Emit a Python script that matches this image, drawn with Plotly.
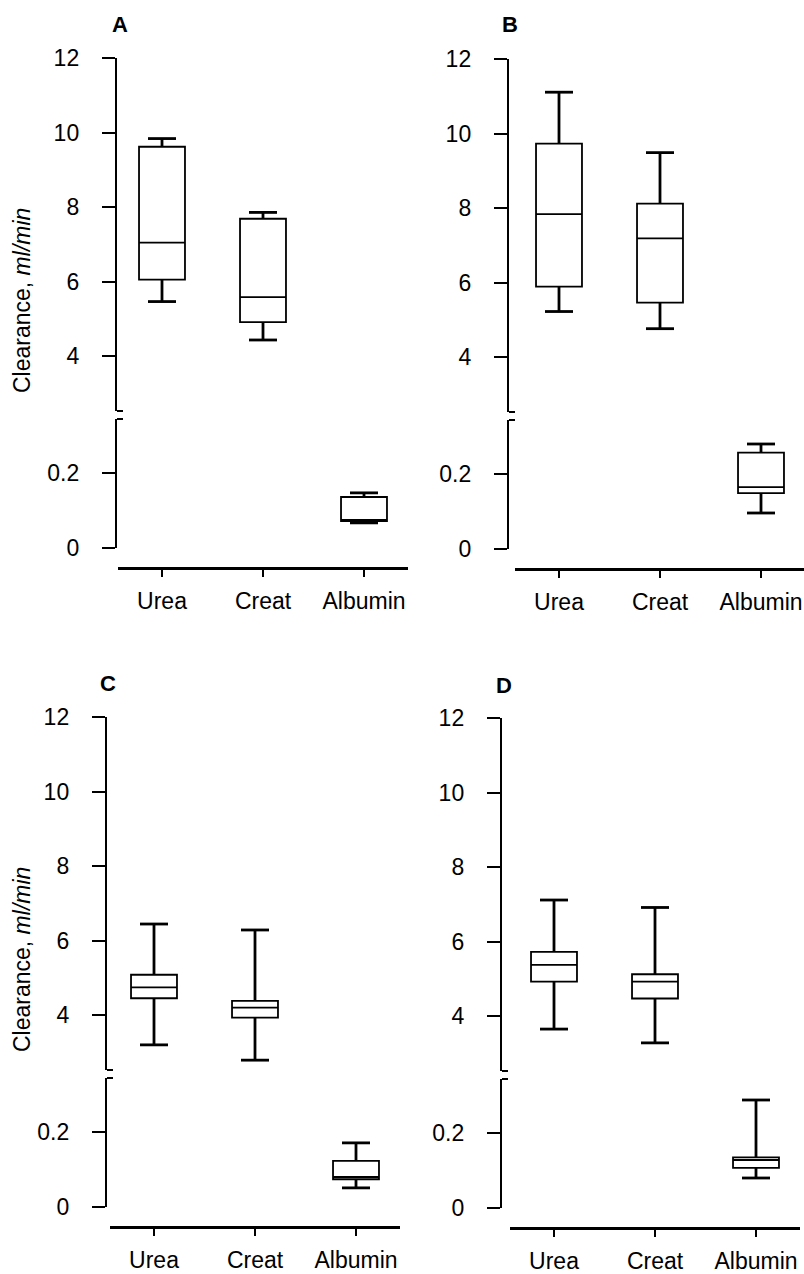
import plotly.graph_objects as go

# ---------------- data ----------------
categories = ["Urea", "Creat", "Albumin"]
panel_names = ["A", "B", "C", "D"]

A_lowerfence = [5.47, 4.44, 0.067]
A_q1 = [6.06, 4.92, 0.072]
A_median = [7.05, 5.59, 0.072]
A_q3 = [9.62, 7.69, 0.136]
A_upperfence = [9.84, 7.86, 0.147]

B_lowerfence = [5.23, 4.77, 0.096]
B_q1 = [5.90, 5.47, 0.149]
B_median = [7.84, 7.19, 0.165]
B_q3 = [9.73, 8.12, 0.257]
B_upperfence = [11.11, 9.49, 0.280]

C_lowerfence = [3.21, 2.80, 0.051]
C_q1 = [4.46, 3.94, 0.074]
C_median = [4.75, 4.21, 0.080]
C_q3 = [5.09, 4.39, 0.123]
C_upperfence = [6.45, 6.29, 0.171]

D_lowerfence = [3.66, 3.29, 0.080]
D_q1 = [4.93, 4.48, 0.107]
D_median = [5.38, 4.93, 0.128]
D_q3 = [5.73, 5.13, 0.135]
D_upperfence = [7.12, 6.92, 0.288]

upper_tickvals = [4, 6, 8, 10, 12]
lower_tickvals = [0, 0.2]
lower_ticktext = ["0", "0.2"]
y_title = "Clearance, <i>ml/min</i>"

stats = {
    "A": (A_lowerfence, A_q1, A_median, A_q3, A_upperfence),
    "B": (B_lowerfence, B_q1, B_median, B_q3, B_upperfence),
    "C": (C_lowerfence, C_q1, C_median, C_q3, C_upperfence),
    "D": (D_lowerfence, D_q1, D_median, D_q3, D_upperfence),
}

# ---------------- layout geometry (pixels) ----------------
W, H = 804, 1274
FONT = "Liberation Sans, Arial, Helvetica, sans-serif"
FS = 23
panels = [
    dict(top=58, yx=116, xl=118, lab=(120, 25), title=True),
    dict(top=59, yx=508, xl=515, lab=(510, 25), title=False),
    dict(top=717, yx=106, xl=110, lab=(108, 683), title=True),
    dict(top=718, yx=501, xl=510, lab=(504, 685), title=False),
]
UP_H, GAP, LO_H, XOFF = 353, 8, 129, 20
UP_SCALE, LO_SCALE = 37.3, 375.0
TICK_SP, LEFT_PAD, XW = 101.0, 44.0, 290.0

BOX_LW, WH_LW, CAP = 1.8, 2.8, 20


def fx(px):
    return px / W


def fy(py):
    return 1 - py / H


fig = go.Figure()
layout = dict(
    width=W, height=H,
    margin=dict(l=0, r=0, t=0, b=0, pad=0, autoexpand=False),
    paper_bgcolor="white", plot_bgcolor="white", showlegend=False,
    font=dict(family=FONT, size=FS, color="black"),
)
annotations = []

for p, (name, g) in enumerate(zip(panel_names, panels)):
    lo, q1, med, q3, hi = stats[name]
    xi = p + 1
    yu = 2 * p + 1
    yl = 2 * p + 2
    xname = "x" if xi == 1 else f"x{xi}"
    yuname = "y" if yu == 1 else f"y{yu}"
    ylname = f"y{yl}"

    top = g["top"]
    up_bot = top + UP_H
    lo_top = up_bot + GAP
    lo_bot = lo_top + LO_H
    xaxis_y = lo_bot + XOFF
    up_min = 12 - UP_H / UP_SCALE
    lo_max = LO_H / LO_SCALE

    xl = g["xl"]
    xr = min(xl + XW, W)
    tick0 = xl + LEFT_PAD
    xrange = [-(LEFT_PAD / TICK_SP), (xr - tick0) / TICK_SP]

    xpos = list(range(len(categories)))

    # groups: upper = Urea, Creat ; lower = Albumin
    for idxs, yname in (([0, 1], yuname), ([2], ylname)):
        xs = [xpos[i] for i in idxs]
        fig.add_trace(go.Box(
            x=xs, q1=[q1[i] for i in idxs], median=[med[i] for i in idxs],
            q3=[q3[i] for i in idxs], lowerfence=[q1[i] for i in idxs],
            upperfence=[q3[i] for i in idxs], width=0.455, whiskerwidth=0,
            fillcolor="white", line=dict(color="black", width=BOX_LW),
            boxpoints=False, hoverinfo="skip", xaxis=xname, yaxis=yname,
        ))
        wx, wy = [], []
        for i in idxs:
            wx += [xpos[i], xpos[i], None, xpos[i], xpos[i], None]
            wy += [q3[i], hi[i], None, q1[i], lo[i], None]
        fig.add_trace(go.Scatter(
            x=wx, y=wy, mode="lines", line=dict(color="black", width=WH_LW),
            hoverinfo="skip", xaxis=xname, yaxis=yname, cliponaxis=False,
        ))
        cx, cy = [], []
        for i in idxs:
            cx += [xpos[i], xpos[i]]
            cy += [hi[i], lo[i]]
        fig.add_trace(go.Scatter(
            x=cx, y=cy, mode="markers",
            marker=dict(symbol="line-ew", size=CAP,
                        line=dict(color="black", width=WH_LW)),
            hoverinfo="skip", xaxis=xname, yaxis=yname, cliponaxis=False,
        ))

    layout[f"xaxis{'' if xi == 1 else xi}"] = dict(
        domain=[fx(xl), fx(xr)], range=xrange, anchor="free",
        position=fy(xaxis_y), tickmode="array", tickvals=xpos,
        ticktext=categories, ticks="outside", ticklen=7, tickwidth=1.8,
        tickcolor="black", showline=True, linewidth=2.6, linecolor="black",
        showgrid=False, zeroline=False, ticklabelstandoff=5, automargin=False,
        tickfont=dict(family=FONT, size=FS, color="black"),
    )
    yaxis_common = dict(
        anchor="free", position=fx(g["yx"]), ticks="outside", ticklen=13,
        tickwidth=1.8, tickcolor="black", showline=True, linewidth=2.4,
        linecolor="black", showgrid=False, zeroline=False, automargin=False,
        ticklabelstandoff=18, tickfont=dict(family=FONT, size=FS, color="black"),
    )
    layout[f"yaxis{'' if yu == 1 else yu}"] = dict(
        yaxis_common, domain=[fy(up_bot), fy(top)], range=[up_min, 12],
        tickmode="array", tickvals=[up_min] + upper_tickvals,
        ticktext=[""] + [str(v) for v in upper_tickvals],
        minor=dict(tickmode="array", tickvals=[up_min], ticks="inside",
                   ticklen=6, tickwidth=1.8, tickcolor="black", showgrid=False),
    )
    layout[f"yaxis{yl}"] = dict(
        yaxis_common, domain=[fy(lo_bot), fy(lo_top)], range=[0, lo_max],
        tickmode="array", tickvals=lower_tickvals + [lo_max],
        ticktext=lower_ticktext + [""],
        minor=dict(tickmode="array", tickvals=[lo_max], ticks="inside",
                   ticklen=6, tickwidth=1.8, tickcolor="black", showgrid=False),
    )

    annotations.append(dict(
        text=f"<b>{name}</b>", x=fx(g["lab"][0]), y=fy(g["lab"][1]),
        xref="paper", yref="paper", showarrow=False, xanchor="center",
        yanchor="middle", font=dict(family=FONT, size=FS - 1, color="black"),
    ))
    if g["title"]:
        annotations.append(dict(
            text=y_title, x=fx(22), y=fy(top + 243), xref="paper",
            yref="paper", showarrow=False, textangle=-90, xanchor="center",
            yanchor="middle", font=dict(family=FONT, size=FS, color="black"),
        ))

layout["annotations"] = annotations
fig.update_layout(**layout)
fig.write_html("out.html")
